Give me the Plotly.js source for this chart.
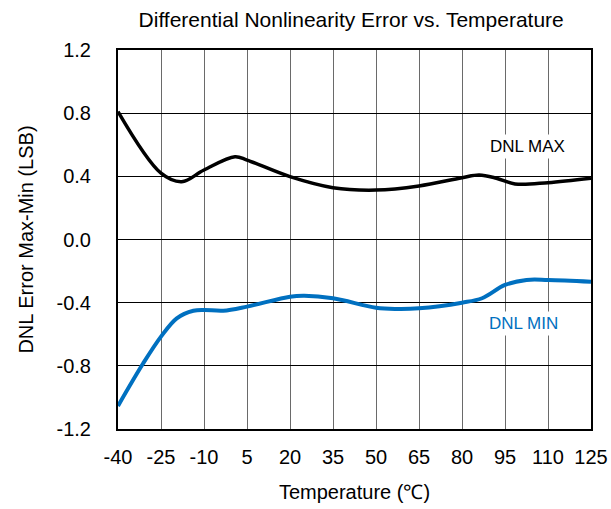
<!DOCTYPE html>
<html>
<head>
<meta charset="utf-8">
<script src="https://cdn.plot.ly/plotly-3.0.1.min.js"></script>
<style>html,body{margin:0;padding:0;background:#fff;}#chart{width:611px;height:509px;}</style>
</head>
<body>
<div id="chart"></div>
<script>
const maxTemp = [-40, -25, -17.8, -10, 0.8, 5, 20, 35, 50, 65, 80, 86, 92, 98.5, 110, 125];
const maxVal  = [0.81, 0.42, 0.366, 0.44, 0.524, 0.503, 0.398, 0.328, 0.313, 0.339, 0.391, 0.408, 0.388, 0.352, 0.36, 0.388];
const minTemp = [-40, -31.2, -25, -19.5, -13.7, -10, -3.3, 5, 20, 25, 35, 50, 57, 65, 80, 87, 95, 102.5, 110, 125];
const minVal  = [-1.054, -0.784, -0.615, -0.499, -0.451, -0.446, -0.451, -0.425, -0.362, -0.356, -0.372, -0.432, -0.44, -0.436, -0.4, -0.372, -0.288, -0.256, -0.256, -0.267];
const xTicks = [-40, -25, -10, 5, 20, 35, 50, 65, 80, 95, 110, 125];
const yTicks = [-1.2, -0.8, -0.4, 0.0, 0.4, 0.8, 1.2];
const yTickText = ['-1.2', '-0.8', '-0.4', '0.0', '0.4', '0.8', '1.2'];
const labels = [
  {text: 'DNL MAX', x: 102.7, y: 0.586, color: '#000000'},
  {text: 'DNL MIN', x: 101.3, y: -0.529, color: '#0070C0'}
];

const font = 'Arial, "Liberation Sans", sans-serif';
const traces = [
  {x: maxTemp, y: maxVal, mode: 'lines', line: {color: '#000000', width: 3.5, shape: 'spline', smoothing: 1}, hoverinfo: 'skip'},
  {x: minTemp, y: minVal, mode: 'lines', line: {color: '#0070C0', width: 4, shape: 'spline', smoothing: 1}, hoverinfo: 'skip'}
];
const layout = {
  width: 611, height: 509,
  margin: {l: 118, r: 20, t: 50, b: 80},
  paper_bgcolor: '#ffffff', plot_bgcolor: '#ffffff',
  showlegend: false,
  font: {family: font, size: 20, color: '#000'},
  title: {text: 'Differential Nonlinearity Error vs. Temperature', font: {family: font, size: 21, color: '#000'}, xref: 'paper', x: 0.493, xanchor: 'center', yref: 'container', y: 0.962, yanchor: 'middle'},
  xaxis: {
    range: [-40, 125], tickvals: xTicks, ticktext: xTicks.map(String),
    showgrid: true, gridcolor: '#6a6a6a', gridwidth: 1,
    zeroline: false, showline: true, linecolor: '#000', linewidth: 2, mirror: true,
    ticks: '', ticklabelstandoff: 9,
    tickfont: {family: font, size: 20, color: '#000'},
    title: {text: 'Temperature (℃)', font: {family: font, size: 20, color: '#000'}, standoff: 18}
  },
  yaxis: {
    range: [-1.2, 1.2], tickvals: yTicks, ticktext: yTickText,
    showgrid: true, gridcolor: '#000000', gridwidth: 1,
    zeroline: false, showline: true, linecolor: '#000', linewidth: 2, mirror: true,
    ticks: '', ticklabelstandoff: 21,
    tickfont: {family: font, size: 20, color: '#000'},
    title: {text: 'DNL Error Max-Min (LSB)', font: {family: font, size: 20, color: '#000'}, standoff: 18}
  },
  annotations: labels.map(l => ({
    x: l.x, y: l.y, xref: 'x', yref: 'y', text: l.text, showarrow: false,
    bgcolor: '#ffffff', font: {family: font, size: 17, color: l.color}, borderpad: 2
  }))
};
Plotly.newPlot('chart', traces, layout, {displayModeBar: false, staticPlot: true});
</script>
</body>
</html>
